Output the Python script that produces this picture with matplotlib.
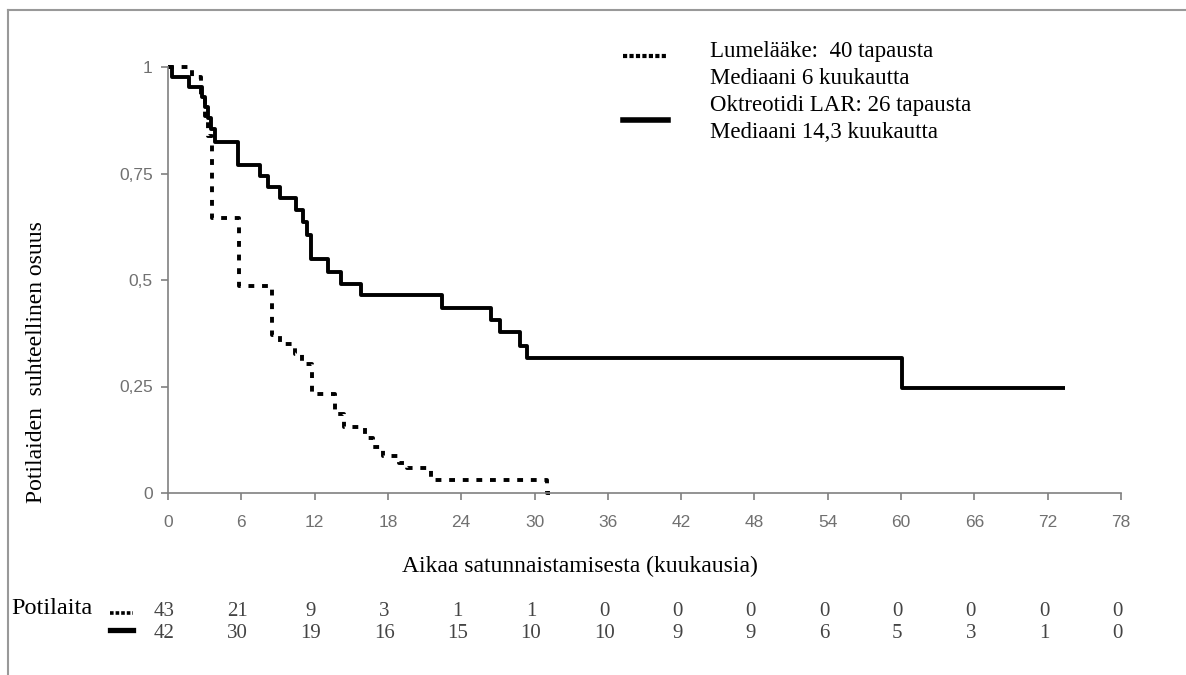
import matplotlib
matplotlib.use("Agg")
import matplotlib.pyplot as plt
import matplotlib.transforms as mtransforms
from matplotlib.lines import Line2D

# Lumelääke (placebo), Kaplan-Meier steps
plac_t = [0, 2.0, 2.7, 3.0, 3.3, 3.6, 5.8, 8.5, 9.2, 10.4, 11.0, 11.8, 13.7, 14.4,
          16.1, 16.8, 17.6, 18.9, 19.6, 21.5, 31.0, 31.3]
plac_s = [1.0, 0.977, 0.93, 0.885, 0.837, 0.645, 0.487, 0.372, 0.349, 0.326, 0.302,
          0.233, 0.186, 0.155, 0.13, 0.107, 0.088, 0.07, 0.058, 0.03, 0.0, 0.0]

# Oktreotidi LAR
okt_t = [0, 0.35, 1.75, 2.8, 3.05, 3.3, 3.55, 3.85, 5.7, 7.55, 8.2, 9.2, 10.5, 11.05,
         11.4, 11.7, 13.1, 14.2, 15.8, 22.4, 26.4, 27.2, 28.8, 29.4, 60.1, 73.4]
okt_s = [1.0, 0.977, 0.954, 0.93, 0.905, 0.88, 0.855, 0.825, 0.77, 0.743, 0.719, 0.692,
         0.664, 0.635, 0.605, 0.549, 0.518, 0.491, 0.465, 0.434, 0.405, 0.378, 0.345,
         0.317, 0.246, 0.246]

x_ticks = list(range(0, 79, 6))
y_ticks = [0, 0.25, 0.5, 0.75, 1]
y_ticklabels = ["0", "0,25", "0,5", "0,75", "1"]

risk_plac = [43, 21, 9, 3, 1, 1, 0, 0, 0, 0, 0, 0, 0, 0]
risk_okt = [42, 30, 19, 16, 15, 10, 10, 9, 9, 6, 5, 3, 1, 0]

legend_plac = ["Lumelääke:  40 tapausta", "Mediaani 6 kuukautta"]
legend_okt = ["Oktreotidi LAR: 26 tapausta", "Mediaani 14,3 kuukautta"]

W, H = 1186, 675
SERIF = "Liberation Serif"
SANS = "Liberation Sans"
GRAY = "#808080"


def fx(px):
    return px / W


def fy(py):
    return 1 - py / H


fig = plt.figure(figsize=(W / 100, H / 100), dpi=100)
ax = fig.add_axes([fx(168), fy(493), (1121 - 168) / W, (493 - 67) / H])

dotted = (0, (1.5, 2.0))
ax.plot(plac_t, plac_s, drawstyle="steps-post", color="black", lw=2.8,
        linestyle=dotted, dash_capstyle="butt", clip_on=False)
ax.plot(okt_t, okt_s, drawstyle="steps-post", color="black", lw=2.8,
        solid_capstyle="butt", clip_on=False)

ax.set_xlim(0, 78)
ax.set_ylim(0, 1)
ax.set_xticks(x_ticks)
ax.set_xticklabels([str(v) for v in x_ticks])
ax.set_yticks(y_ticks)
ax.set_yticklabels(y_ticklabels)
for s in ["top", "right"]:
    ax.spines[s].set_visible(False)
for s in ["left", "bottom"]:
    ax.spines[s].set_color(GRAY)
    ax.spines[s].set_linewidth(1.2)
ax.tick_params(colors=GRAY, length=5, width=1.2, labelcolor="#707070", labelsize=12.5)
ax.tick_params(axis="x", pad=11)
ax.tick_params(axis="y", pad=6)
for lab in ax.get_xticklabels() + ax.get_yticklabels():
    lab.set_fontfamily(SANS)

# axis titles
fig.text(fx(37), fy(362), "Potilaiden  suhteellinen osuus", rotation=90,
         ha="center", va="center", fontsize=17, family=SERIF)
fig.text(fx(580), fy(566), "Aikaa satunnaistamisesta (kuukausia)",
         ha="center", va="center", fontsize=17, family=SERIF)

# legend
legend_dots = (0, (1.0, 0.55))
fig.add_artist(Line2D([fx(623), fx(668)], [fy(56), fy(56)], color="black", lw=3.0,
                      linestyle=legend_dots, dash_capstyle="butt"))
fig.add_artist(Line2D([fx(623), fx(668)], [fy(120), fy(120)], color="black", lw=4.0))
for i, txt in enumerate(legend_plac + legend_okt):
    fig.text(fx(710), fy(51 + i * 27.3), txt, ha="left", va="center",
             fontsize=16.5, family=SERIF)

# outer frame (top and left only)
fig.add_artist(Line2D([fx(8), 1], [fy(10), fy(10)], color="#999999", lw=1.5))
fig.add_artist(Line2D([fx(8), fx(8)], [fy(10), 0], color="#999999", lw=1.5))

# number at risk
trans = mtransforms.blended_transform_factory(ax.transData, fig.transFigure)
fig.text(fx(11), fy(608), "Potilaita", ha="left", va="center", fontsize=17.5,
         family=SERIF)
fig.add_artist(Line2D([fx(110), fx(133)], [fy(613), fy(613)], color="black", lw=2.6,
                      linestyle=legend_dots, dash_capstyle="butt"))
fig.add_artist(Line2D([fx(110), fx(133)], [fy(630), fy(630)], color="black", lw=3.8))
for xv, a, b in zip(x_ticks, risk_plac, risk_okt):
    ax.text(xv - 0.3, fy(611), str(a), transform=trans, ha="center", va="center",
            fontsize=15, family=SERIF, color="#444444", clip_on=False)
    ax.text(xv - 0.3, fy(633), str(b), transform=trans, ha="center", va="center",
            fontsize=15, family=SERIF, color="#444444", clip_on=False)

fig.savefig("out.png", dpi=100)
